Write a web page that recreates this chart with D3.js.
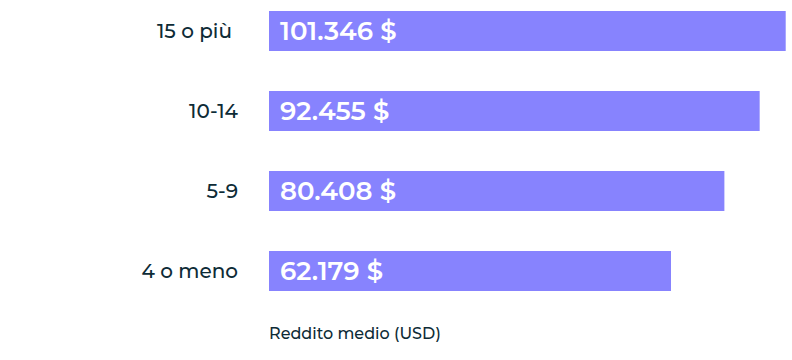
<!DOCTYPE html>
<html>
 <head>
  <meta charset="utf-8">
  <title>Reddito medio</title>
  <script src="https://d3js.org/d3.v7.min.js"></script>
 </head>
 <body style="margin:0">
<style>
text { font-family: Montserrat, "Open Sans", sans-serif; }
</style>
 <svg width="792" height="360"></svg>
 <script>
// data
var categories = ["15 o più", "10-14", "5-9", "4 o meno"];
var incomes = [101346, 92455, 80408, 62179];
var valueLabels = ["101.346 $", "92.455 $", "80.408 $", "62.179 $"];
var axisTitle = "Reddito medio (USD)";

var svg = d3.select("svg"),
    width = +svg.attr("width"),
    height = +svg.attr("height");

// bars in the original do not start at zero
var x = d3.scaleLinear()
    .domain([-75100, 101346])
    .range([269, 785.7]);

var y = d3.scaleBand()
    .domain(categories)
    .range([-9, 311])
    .paddingInner(0.5)
    .paddingOuter(0.25);

var rows = categories.map(function(c, i) {
  return { cat: c, val: incomes[i], label: valueLabels[i] };
});

svg.selectAll("rect.bar")
  .data(rows)
  .enter()
  .append("rect")
  .attr("class", "bar")
  .attr("x", x(x.domain()[0]))
  .attr("y", function(d) { return y(d.cat); })
  .attr("width", function(d) { return x(d.val) - x(x.domain()[0]); })
  .attr("height", y.bandwidth())
  .style("fill", "#8783fe");

svg.selectAll("text.val")
  .data(rows)
  .enter()
  .append("text")
  .attr("class", "val")
  .attr("x", x(x.domain()[0]) + 11)
  .attr("y", function(d) { return y(d.cat) + y.bandwidth() / 2; })
  .attr("dy", "0.36em")
  .style("font-size", "26px")
  .style("font-weight", "600")
  .style("fill", "white")
  .text(function(d) { return d.label; });

svg.selectAll("text.cat")
  .data(rows)
  .enter()
  .append("text")
  .attr("class", "cat")
  .attr("x", function(d, i) { return i == 0 ? 232 : 238; })
  .attr("y", function(d) { return y(d.cat) + y.bandwidth() / 2; })
  .attr("dy", "0.36em")
  .attr("text-anchor", "end")
  .style("font-size", "20px")
  .style("font-weight", "500")
  .style("fill", "#0d2b36")
  .text(function(d) { return d.cat; });

svg.append("text")
  .attr("x", 269)
  .attr("y", 339)
  .style("font-size", "16px")
  .style("font-weight", "500")
  .style("fill", "#0d2b36")
  .text(axisTitle);
 </script>
</body>
</html>
